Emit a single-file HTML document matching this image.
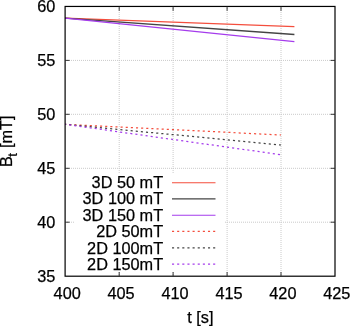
<!DOCTYPE html>
<html><head><meta charset="utf-8">
<style>
html,body{margin:0;padding:0;background:#fff;overflow:hidden;}
svg{display:block;}
text{font-family:"Liberation Sans",sans-serif;font-size:16.3px;fill:#000;stroke:#000;stroke-width:0.25px;}
</style></head>
<body>
<svg width="350" height="326" viewBox="0 0 350 326">
<rect width="350" height="326" fill="#fff"/>
<!-- grid -->
<g stroke="#cacaca" stroke-width="1" stroke-dasharray="1 1" fill="none">
<path d="M67 60.4H335M67 114.3H335M67 168.3H335M67 222.2H335"/>
<path d="M119.2 8V276M173.1 8V276M227.1 8V276M281 8V276"/>
</g>
<!-- data solid -->
<g fill="none" stroke-width="1.35">
<path d="M65.1 18.2L294.4 26.7" stroke="#f44e3d"/>
<path d="M65.1 18.2L294.4 34.5" stroke="#444"/>
<path d="M65.1 18.2L294.4 41.6" stroke="#a53cec"/>
</g>
<g fill="none" stroke-width="1.25" stroke-dasharray="2.1 3.04" stroke-dashoffset="1">
<path d="M65.1 124.3L281 135" stroke="#f44e3d"/>
<path d="M65.1 124.3L281 145" stroke="#444"/>
<path d="M65.1 124.3L281 154.7" stroke="#a53cec"/>
</g>
<!-- legend box -->
<rect x="74" y="174" width="151" height="98" fill="#fff"/>
<g fill="none" stroke-width="1.1">
<path d="M172 182.8H215.5" stroke="#f44e3d"/>
<path d="M172 198.9H215.5" stroke="#444"/>
<path d="M172 215.2H215.5" stroke="#a53cec"/>
</g>
<g fill="none" stroke-width="1.25" stroke-dasharray="2.1 3.04">
<path d="M172 231.4H215.5" stroke="#f44e3d"/>
<path d="M172 247.9H215.5" stroke="#444"/>
<path d="M172 264H215.5" stroke="#a53cec"/>
</g>
<g text-anchor="end">
<text x="163.1" y="188.1">3D 50 mT</text>
<text x="163.1" y="204.4">3D 100 mT</text>
<text x="163.1" y="220.7">3D 150 mT</text>
<text x="163.1" y="237.1">2D 50mT</text>
<text x="163.1" y="253.5">2D 100mT</text>
<text x="163.1" y="269.7">2D 150mT</text>
</g>
<!-- frame & ticks -->
<g stroke="#000" stroke-width="1.2" fill="none">
<rect x="65.1" y="6.45" width="269.9" height="269.75"/>
<g stroke-width="0.9" stroke="#222">
<path d="M65.1 60.4h4.5M65.1 114.3h4.5M65.1 168.3h4.5M65.1 222.2h4.5M335 60.4h-4.5M335 114.3h-4.5M335 168.3h-4.5M335 222.2h-4.5"/>
<path d="M119.2 276.2v-4.2M173.1 276.2v-4.2M227.1 276.2v-4.2M281 276.2v-4.2M119.2 6.5v4.3M173.1 6.5v4.3M227.1 6.5v4.3M281 6.5v4.3"/>
</g>
</g>
<!-- y tick labels -->
<g text-anchor="end">
<text x="55.4" y="12.3">60</text>
<text x="55.4" y="66.2">55</text>
<text x="55.4" y="120.1">50</text>
<text x="55.4" y="174">45</text>
<text x="55.4" y="227.9">40</text>
<text x="55.4" y="281.8">35</text>
</g>
<g text-anchor="middle">
<text x="67.2" y="298.8">400</text>
<text x="121.1" y="298.8">405</text>
<text x="175" y="298.8">410</text>
<text x="229" y="298.8">415</text>
<text x="282.9" y="298.8">420</text>
<text x="336.8" y="298.8">425</text>
<text x="200.3" y="322.9">t [s]</text>
</g>
<text transform="translate(12 141.3) rotate(-90)" text-anchor="middle">B<tspan font-size="13" dy="4.7" dx="-0.6">t</tspan><tspan dy="-4.7" dx="0.5"> [mT]</tspan></text>
</svg>
</body></html>
